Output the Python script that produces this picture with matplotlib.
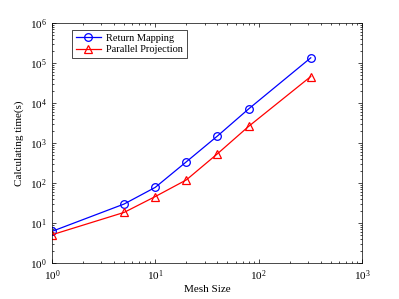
import matplotlib.pyplot as plt
import numpy as np

plt.rcParams['font.family'] = ['Liberation Serif', 'DejaVu Serif']
plt.rcParams['mathtext.fontset'] = 'stix'

mesh = [1, 5, 10, 20, 40, 80, 320]
return_mapping = [6.2, 30, 78, 340, 1500, 7100, 135000]
parallel_proj = [5.1, 18.5, 46, 120, 540, 2600, 46000]

fig = plt.figure(figsize=(3.99, 2.99), dpi=100)
ax = fig.add_axes([0.130, 0.120, 0.777, 0.803])

ax.loglog(mesh, return_mapping, '-o', color='#0000ff', lw=0.9, ms=5.5,
          mfc='none', mew=0.9, label='Return Mapping')
ax.loglog(mesh, parallel_proj, '-^', color='#ff0000', lw=0.9, ms=5.5,
          mfc='none', mew=0.9, label='Parallel Projection')

ax.set_xlim(1, 1000)
ax.set_ylim(1, 1e6)
ax.set_xlabel('Mesh Size', fontsize=8, labelpad=2)
ax.set_ylabel('Calculating time(s)', fontsize=8)
ax.tick_params(which='both', direction='in', top=True, right=True,
               labelsize=8, width=0.5)
ax.tick_params(which='major', length=3)
ax.tick_params(which='minor', length=1.5)
for s in ax.spines.values():
    s.set_linewidth(0.5)

leg = ax.legend(loc='upper left', bbox_to_anchor=(0.066, 0.971),
                fontsize=7.5, fancybox=False, edgecolor='black',
                framealpha=1, handlelength=2.4, handletextpad=0.5,
                borderpad=0.35, labelspacing=0.2, borderaxespad=0)
leg.get_frame().set_linewidth(0.5)

fig.savefig('out.png', dpi=100)
